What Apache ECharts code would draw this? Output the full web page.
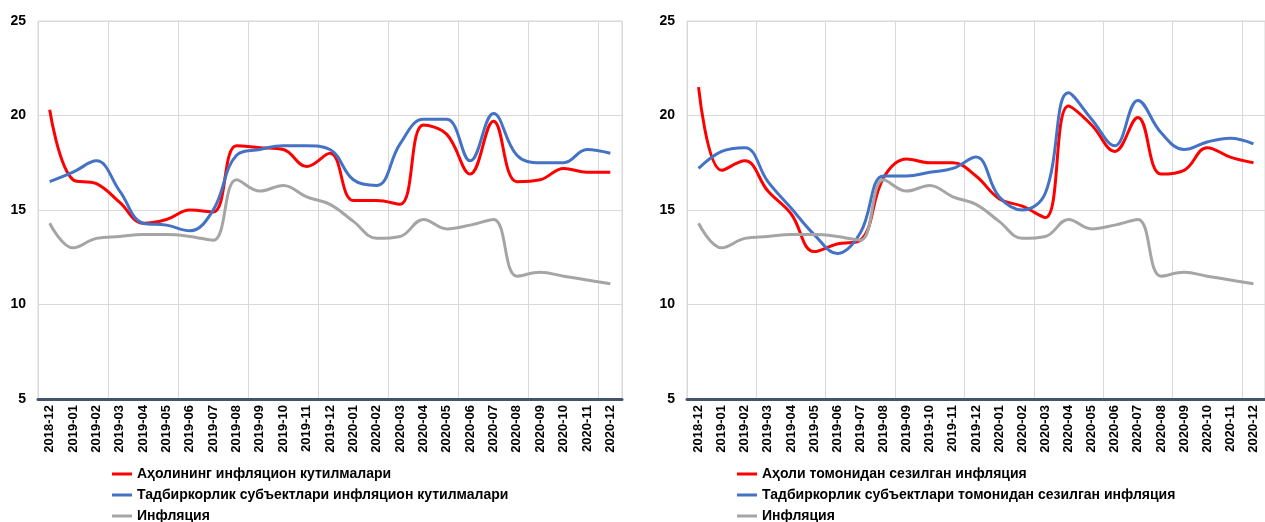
<!DOCTYPE html>
<html>
<head>
<meta charset="utf-8">
<script src="https://cdn.jsdelivr.net/npm/echarts@6/dist/echarts.min.js"></script>
<style>
html,body{margin:0;padding:0;background:#fff;}
#c{width:1265px;height:522px;}
</style>
</head>
<body>
<div id="c"></div>
<script>
var categories = ['2018-12','2019-01','2019-02','2019-03','2019-04','2019-05','2019-06','2019-07','2019-08','2019-09','2019-10','2019-11','2019-12','2020-01','2020-02','2020-03','2020-04','2020-05','2020-06','2020-07','2020-08','2020-09','2020-10','2020-11','2020-12'];
var yTicks = [5, 10, 15, 20, 25];

var inflation = [14.3,13.0,13.5,13.6,13.7,13.7,13.6,13.4,16.6,16.0,16.3,15.7,15.3,14.4,13.5,13.6,14.5,14.0,14.2,14.5,11.5,11.7,11.5,11.3,11.1];

var leftNames = ['Аҳолининг инфляцион кутилмалари','Тадбиркорлик субъектлари инфляцион кутилмалари','Инфляция'];
var leftHouseholds = [20.3,16.6,16.4,15.4,14.3,14.5,15.0,14.9,18.4,18.3,18.2,17.3,18.0,15.5,15.5,15.3,19.5,19.0,16.9,19.7,16.5,16.6,17.2,17.0,17.0];
var leftBusiness = [16.5,17.0,17.6,16.0,14.3,14.2,13.9,15.0,17.9,18.2,18.4,18.4,18.2,16.6,16.3,18.5,19.8,19.8,17.6,20.1,17.9,17.5,17.5,18.2,18.0];

var rightNames = ['Аҳоли томонидан сезилган инфляция','Тадбиркорлик субъектлари томонидан сезилган инфляция','Инфляция '];
var rightHouseholds = [21.5,17.1,17.6,16.0,14.8,12.8,13.2,13.4,16.7,17.7,17.5,17.5,16.8,15.6,15.2,14.6,20.5,19.5,18.1,19.9,16.9,17.1,18.3,17.8,17.5];
var rightBusiness = [17.2,18.1,18.3,16.5,15.1,13.7,12.7,13.8,16.8,16.8,17.0,17.2,17.8,15.7,15.0,15.9,21.2,19.8,18.4,20.8,19.1,18.2,18.6,18.8,18.5];

var RED = '#FF0000', BLUE = '#4472C4', GRAY = '#A5A5A5';
var FONT = '"Liberation Sans", Arial, sans-serif';

function xAxis(gi) {
  return {
    type: 'category', gridIndex: gi, data: categories, boundaryGap: true,
    axisLine: {show: true, lineStyle: {color: '#44546A', width: 3}},
    axisTick: {show: false},
    axisLabel: {rotate: 90, interval: 0, margin: 6, color: '#000', fontFamily: FONT, fontWeight: 'bold', fontSize: 13},
    splitLine: {show: true, interval: 2, lineStyle: {color: '#D9D9D9', width: 1}}
  };
}
function yAxis(gi) {
  return {
    type: 'value', gridIndex: gi, min: yTicks[0], max: yTicks[yTicks.length-1], interval: 5,
    axisLine: {show: false}, axisTick: {show: false},
    axisLabel: {margin: 12, color: '#000', fontFamily: FONT, fontWeight: 'bold', fontSize: 14},
    splitLine: {show: true, lineStyle: {color: '#D9D9D9', width: 1}}
  };
}
function line(name, data, color, idx) {
  return {
    name: name, type: 'line', xAxisIndex: idx, yAxisIndex: idx, data: data,
    smooth: 0.4, symbol: 'none', lineStyle: {color: color, width: 3}, itemStyle: {color: color}
  };
}
function legend(names, left) {
  return {
    orient: 'vertical', left: left, top: 467, height: 80, padding: 0,
    icon: 'rect', itemWidth: 20, itemHeight: 3, itemGap: 7,
    data: names,
    textStyle: {color: '#000', fontFamily: FONT, fontWeight: 'bold', fontSize: 14}
  };
}

var chart = echarts.init(document.getElementById('c'), null, {renderer: 'canvas'});
chart.setOption({
  animation: false,
  backgroundColor: '#fff',
  grid: [
    {left: 38, top: 21, width: 584, height: 378, show: true, borderColor: '#D9D9D9', borderWidth: 1},
    {left: 687, top: 21, width: 581, height: 378, show: true, borderColor: '#D9D9D9', borderWidth: 1}
  ],
  xAxis: [xAxis(0), xAxis(1)],
  yAxis: [yAxis(0), yAxis(1)],
  legend: [legend(leftNames, 112), legend(rightNames, 737)],
  series: [
    line(leftNames[0], leftHouseholds, RED, 0),
    line(leftNames[1], leftBusiness, BLUE, 0),
    line(leftNames[2], inflation, GRAY, 0),
    line(rightNames[0], rightHouseholds, RED, 1),
    line(rightNames[1], rightBusiness, BLUE, 1),
    line(rightNames[2], inflation, GRAY, 1)
  ]
});
</script>
</body>
</html>
